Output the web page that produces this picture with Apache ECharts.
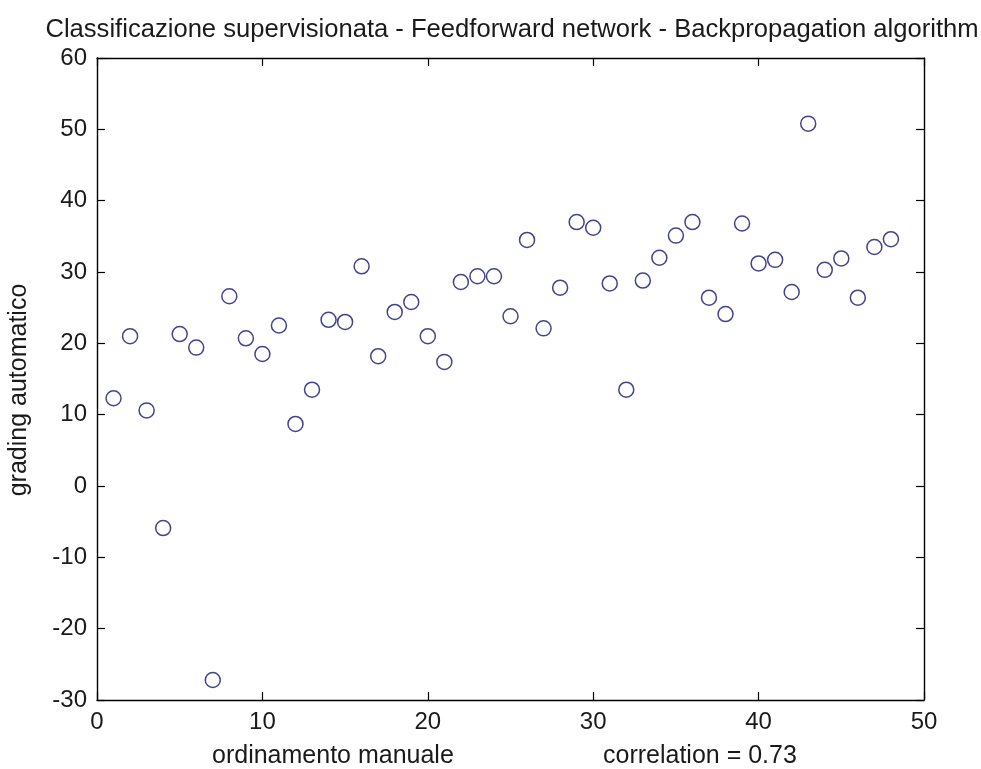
<!DOCTYPE html>
<html>
<head>
<meta charset="utf-8">
<script src="https://cdn.jsdelivr.net/npm/echarts@6/dist/echarts.min.js"></script>
<style>
  html, body { margin: 0; padding: 0; background: #ffffff; }
  #chart { width: 981px; height: 769px; }
</style>
</head>
<body>
<div id="chart"></div>
<script>
// Manual ranking (x) against automatic grading score (y) for each sample
const ordinamento = [
  1, 2, 3, 4, 5, 6, 7, 8, 9, 10, 11, 12, 13, 14, 15, 16,
  17, 18, 19, 20, 21, 22, 23, 24, 25, 26, 27, 28, 29, 30, 31, 32,
  33, 34, 35, 36, 37, 38, 39, 40, 41, 42, 43, 44, 45, 46, 47, 48
];
const grading = [
  12.3, 21.0, 10.6, -5.9, 21.3, 19.4, -27.2, 26.6, 20.7, 18.5, 22.5, 8.7, 13.5, 23.3, 23.0, 30.8,
  18.2, 24.4, 25.8, 21.0, 17.4, 28.6, 29.4, 29.4, 23.8, 34.5, 22.1, 27.8, 37.0, 36.2, 28.4, 13.5,
  28.8, 32.0, 35.1, 37.0, 26.4, 24.1, 36.8, 31.2, 31.7, 27.2, 50.8, 30.3, 31.9, 26.4, 33.5, 34.6
];
const xTicks = [0, 10, 20, 30, 40, 50];
const yTicks = [-30, -20, -10, 0, 10, 20, 30, 40, 50, 60];

const titleText = 'Classificazione supervisionata - Feedforward network - Backpropagation algorithm';
const xLabelLeft = 'ordinamento manuale';
const xLabelRight = 'correlation = 0.73';
const yLabel = 'grading automatico';

const points = ordinamento.map((x, i) => [x, grading[i]]);

const FONT = '"Liberation Sans", Arial, sans-serif';
const INK = '#1a1a1a';

function axisCommon(showLabels) {
  return {
    axisLine: { show: true, onZero: false, lineStyle: { color: '#000', width: 1.4 } },
    axisTick: { show: true, inside: true, length: 8, lineStyle: { color: '#000', width: 1.2 } },
    splitLine: { show: false },
    axisLabel: {
      show: showLabels, color: INK, fontFamily: FONT, fontSize: 24, margin: 10
    }
  };
}

const chart = echarts.init(document.getElementById('chart'), null, { renderer: 'canvas' });

chart.setOption({
  backgroundColor: '#ffffff',
  animation: false,
  title: {
    text: titleText,
    left: 507, top: 12, textAlign: 'center',
    textStyle: { color: INK, fontFamily: FONT, fontSize: 25.6, fontWeight: 'normal' }
  },
  grid: { left: 97, right: 57, top: 58, bottom: 69, containLabel: false },
  xAxis: [
    Object.assign({
      type: 'value', position: 'bottom',
      min: xTicks[0], max: xTicks[xTicks.length - 1], interval: 10
    }, axisCommon(true)),
    Object.assign({
      type: 'value', position: 'top',
      min: xTicks[0], max: xTicks[xTicks.length - 1], interval: 10
    }, axisCommon(false))
  ],
  yAxis: [
    Object.assign({
      type: 'value', position: 'left',
      min: yTicks[0], max: yTicks[yTicks.length - 1], interval: 10
    }, axisCommon(true)),
    Object.assign({
      type: 'value', position: 'right',
      min: yTicks[0], max: yTicks[yTicks.length - 1], interval: 10
    }, axisCommon(false))
  ],
  graphic: [
    {
      type: 'text', left: 212, top: 744,
      style: { text: xLabelLeft, fill: INK, font: '25px ' + FONT }
    },
    {
      type: 'text', left: 603, top: 744,
      style: { text: xLabelRight, fill: INK, font: '25px ' + FONT }
    },
    {
      type: 'text', x: 19, y: 390, rotation: Math.PI / 2,
      style: {
        text: yLabel, fill: INK, font: '25px ' + FONT,
        align: 'center', verticalAlign: 'middle'
      }
    }
  ],
  series: [{
    type: 'scatter',
    xAxisIndex: 0, yAxisIndex: 0,
    data: points,
    symbol: 'circle',
    symbolSize: 15,
    itemStyle: { color: 'rgba(0,0,0,0)', borderColor: '#141470', borderWidth: 1.5 },
    emphasis: { disabled: true }
  }]
});
</script>
</body>
</html>
